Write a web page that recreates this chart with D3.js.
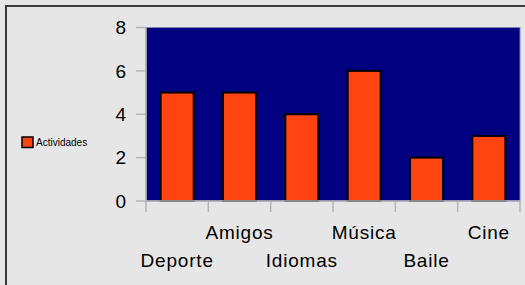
<!DOCTYPE html>
<html lang="es">
<head>
    <meta charset="UTF-8">
    <title>Actividades</title>
    <script src="https://d3js.org/d3.v7.min.js"></script>
    <style>
        body { margin: 0; padding: 0; background: #e6e6e6; }
        svg { display: block; font-family: "Liberation Sans", Arial, sans-serif; }
    </style>
</head>
<body>
    <div id="chart"></div>
    <script>
        // datos del gráfico
        const categorias = ["Deporte", "Amigos", "Idiomas", "Música", "Baile", "Cine"];
        const valores = [5, 5, 4, 6, 2, 3];
        const ticksY = [0, 2, 4, 6, 8];
        const serie = "Actividades";

        const width = 525, height = 285;
        const plot = { left: 146, right: 520, top: 27.5, bottom: 201 };

        const svg = d3.select("#chart").append("svg")
            .attr("width", width)
            .attr("height", height);

        svg.append("rect")
            .attr("width", width).attr("height", height)
            .attr("fill", "#e6e6e6");

        // marco (sólo arriba e izquierda)
        svg.append("path")
            .attr("d", `M6,${height} V6 H${width}`)
            .attr("fill", "none")
            .attr("stroke", "#3a3a3a")
            .attr("stroke-width", 2);

        const x = d3.scaleBand()
            .domain(categorias)
            .range([plot.left, plot.right])
            .paddingInner(0.47)
            .paddingOuter(0.235);

        const xEdge = d3.scaleLinear()
            .domain([0, categorias.length])
            .range([plot.left, plot.right]);

        const y = d3.scaleLinear()
            .domain([0, 8])
            .range([plot.bottom, plot.top]);

        // fondo del área de trazado
        svg.append("rect")
            .attr("x", plot.left)
            .attr("y", plot.top)
            .attr("width", plot.right - plot.left)
            .attr("height", plot.bottom - plot.top)
            .attr("fill", "#000080")
            .attr("stroke", "#8080b0")
            .attr("stroke-width", 1);

        // barras
        svg.selectAll(".bar")
            .data(valores)
            .enter().append("rect")
            .attr("class", "bar")
            .attr("x", (d, i) => x(categorias[i]))
            .attr("y", d => y(d))
            .attr("width", x.bandwidth())
            .attr("height", d => y(0) - y(d))
            .attr("fill", "#ff4411")
            .attr("stroke", "#000")
            .attr("stroke-width", 2);

        // eje Y
        const gy = svg.append("g");
        gy.append("line")
            .attr("x1", plot.left).attr("x2", plot.left)
            .attr("y1", plot.top).attr("y2", plot.bottom)
            .attr("stroke", "#b4b4b4").attr("stroke-width", 1.5);
        gy.selectAll(".ty")
            .data(ticksY)
            .enter().append("line")
            .attr("x1", plot.left - 10).attr("x2", plot.left)
            .attr("y1", d => y(d)).attr("y2", d => y(d))
            .attr("stroke", "#b4b4b4").attr("stroke-width", 1.5);
        gy.selectAll(".ly")
            .data(ticksY)
            .enter().append("text")
            .attr("x", 126)
            .attr("y", d => y(d))
            .attr("dy", "0.36em")
            .attr("text-anchor", "end")
            .attr("font-size", 19)
            .attr("fill", "#000")
            .text(d => d);

        // eje X
        const gx = svg.append("g");
        gx.append("line")
            .attr("x1", plot.left).attr("x2", plot.right)
            .attr("y1", plot.bottom).attr("y2", plot.bottom)
            .attr("stroke", "#b4b4b4").attr("stroke-width", 1.5);
        gx.selectAll(".tx")
            .data(d3.range(categorias.length + 1))
            .enter().append("line")
            .attr("x1", d => xEdge(d)).attr("x2", d => xEdge(d))
            .attr("y1", plot.bottom).attr("y2", plot.bottom + 11)
            .attr("stroke", "#b4b4b4").attr("stroke-width", 1.5);
        gx.selectAll(".lx")
            .data(categorias)
            .enter().append("text")
            .attr("x", d => x(d) + x.bandwidth() / 2)
            .attr("y", (d, i) => i % 2 === 0 ? 267 : 239)
            .attr("text-anchor", "middle")
            .attr("font-size", 19)
            .attr("letter-spacing", 0.8)
            .attr("fill", "#000")
            .text(d => d);

        // leyenda
        const leg = svg.append("g").attr("transform", "translate(22,137)");
        leg.append("rect")
            .attr("width", 11).attr("height", 10.5)
            .attr("fill", "#ff4411")
            .attr("stroke", "#000")
            .attr("stroke-width", 1.5);
        leg.append("text")
            .attr("x", 14)
            .attr("y", 5)
            .attr("dy", "0.36em")
            .attr("font-size", 10)
            .attr("fill", "#000")
            .text(serie);
    </script>
</body>
</html>
